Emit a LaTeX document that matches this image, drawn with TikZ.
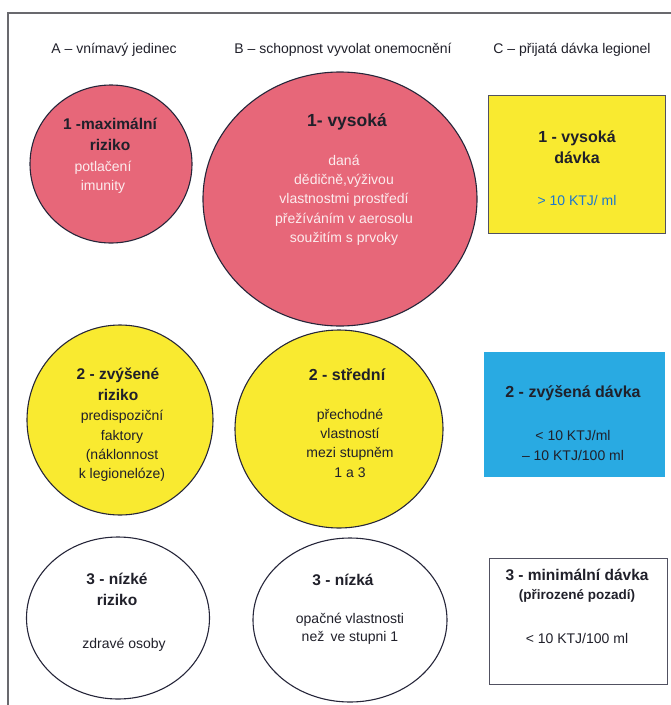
\documentclass[tikz,border=0pt]{standalone}
\usepackage{fontspec}
\setmainfont{Liberation Sans}
\usetikzlibrary{shapes.geometric}
\definecolor{riskpink}{RGB}{231,103,121}
\definecolor{riskyellow}{RGB}{249,234,48}
\definecolor{doseblue}{RGB}{41,170,226}
\definecolor{edgeink}{RGB}{38,38,58}
\definecolor{textink}{RGB}{32,32,42}
\definecolor{paletext}{RGB}{252,236,238}
\definecolor{numblue}{RGB}{28,118,206}
\definecolor{framegray}{RGB}{105,105,110}

\begin{document}
\begin{tikzpicture}[
    x=1pt, y=-1pt,
    every node/.style={text=textink, align=center, inner sep=0pt},
    disc/.style={ellipse, draw=edgeink, line width=1.1pt},
    pinkdisc/.style={disc, fill=riskpink},
    yellowdisc/.style={disc, fill=riskyellow},
    whitedisc/.style={disc, fill=white},
    dosebox/.style={rectangle, draw=edgeink!80, line width=1pt},
    head/.style={font=\fontsize{14}{17}\selectfont},
    ttl/.style={font=\fontsize{15.5}{21}\selectfont\bfseries},
    txt/.style={font=\fontsize{14}{19.3}\selectfont},
    pale/.style={txt, text=paletext},
]
\useasboundingbox (0,0) rectangle (671,705);

% frame (top and left edge only)
\draw[framegray, line width=1.4pt] (671,13) -- (8,13) -- (8,705);

% column heads
\node[head] (headA) at (114,50) {A -- vnímavý jedinec};
\node[head] (headB) at (343,50) {B -- schopnost vyvolat onemocnění};
\node[head] (headC) at (572,50) {C -- přijatá dávka legionel};

% row 1
\node[pinkdisc, minimum width=162pt, minimum height=158pt] (a1) at (111,164) {};
\node[ttl] (a1t) at (110,134) {1 -maximální\\riziko};
\node[pale] (a1b) at (103,177) {potlačení\\imunity};

\node[pinkdisc, minimum width=274pt, minimum height=254pt] (b1) at (340,199) {};
\node[ttl, font=\fontsize{17.5}{21}\selectfont\bfseries] (b1t) at (347,122) {1- vysoká};
\node[pale] (b1b) at (344,200) {daná\\dědičně,výživou\\vlastnostmi prostředí\\přežíváním v aerosolu\\soužitím s prvoky};

\node[dosebox, fill=riskyellow, minimum width=177pt, minimum height=138pt] (c1) at (576.5,164) {};
\node[ttl, font=\fontsize{16}{21}\selectfont\bfseries] (c1t) at (577,147.5) {1 - vysoká\\dávka};
\node[txt, text=numblue] (c1b) at (577,200) {> 10 KTJ/ ml};

% row 2
\node[yellowdisc, minimum width=186pt, minimum height=190pt] (a2) at (120,420) {};
\node[ttl] (a2t) at (118,384.5) {2 - zvýšené\\riziko};
\node[txt] (a2b) at (122,446) {predispoziční\\faktory\\(náklonnost\\k legionelóze)};

\node[yellowdisc, minimum width=208pt, minimum height=198pt] (b2) at (339,429) {};
\node[ttl, font=\fontsize{16}{21}\selectfont\bfseries] (b2t) at (347,375) {2 - střední};
\node[txt] (b2b) at (350,443) {přechodné\\vlastností\\mezi stupněm\\1 a 3};

\node[rectangle, fill=doseblue, minimum width=181pt, minimum height=125pt] (c2) at (574.5,414.5) {};
\node[ttl, font=\fontsize{16}{21}\selectfont\bfseries] (c2t) at (573,393) {2 - zvýšená dávka};
\node[txt, font=\fontsize{14}{20}\selectfont] (c2b) at (573,445) {< 10 KTJ/ml\\-- 10 KTJ/100 ml};

% row 3
\node[whitedisc, minimum width=183pt, minimum height=162pt] (a3) at (118,618) {};
\node[ttl] (a3t) at (117,589) {3 - nízké\\riziko};
\node[txt] (a3b) at (124,645) {zdravé osoby};

\node[whitedisc, minimum width=194pt, minimum height=164pt] (b3) at (350,620) {};
\node[ttl] (b3t) at (343,580) {3 - nízká};
\node[txt, font=\fontsize{14}{18}\selectfont] (b3b) at (350,629) {opačné vlastnosti\\než\, ve stupni 1};

\node[dosebox, fill=white, minimum width=178pt, minimum height=126pt] (c3) at (578,621) {};
\node[ttl, font=\fontsize{15.5}{20}\selectfont\bfseries] (c3t) at (577,575) {3 - minimální dávka};
\node[ttl, font=\fontsize{13.5}{17}\selectfont\bfseries] (c3s) at (577,596) {(přirozené pozadí)};
\node[txt] (c3b) at (577,638) {< 10 KTJ/100 ml};

\end{tikzpicture}
\end{document}
